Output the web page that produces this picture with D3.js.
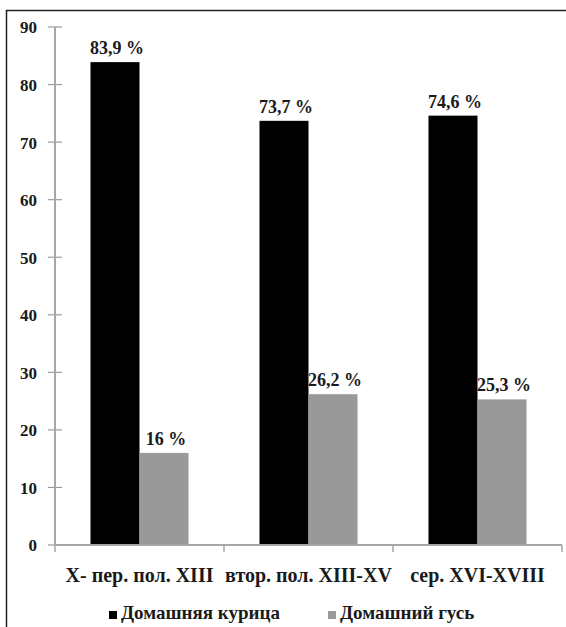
<!DOCTYPE html>
<html>
<head>
<meta charset="utf-8">
<script src="https://cdn.jsdelivr.net/npm/d3@7/dist/d3.min.js"></script>
<style>
  html, body { margin: 0; padding: 0; background: #fff; }
  svg { display: block; }
</style>
</head>
<body>
<svg id="chart" width="566" height="627"></svg>
<script>
// Periods (categories)
const periods = ["X- пер. пол. XIII", "втор. пол. XIII-XV", "сер. XVI-XVIII"];
// Series names
const seriesNames = ["Домашняя курица", "Домашний гусь"];
// Shares, %
const chickenValues = [83.9, 73.7, 74.6];
const gooseValues = [16, 26.2, 25.3];
// Y-axis ticks
const yTicks = [0, 10, 20, 30, 40, 50, 60, 70, 80, 90];
const seriesColors = ["#000000", "#999999"];

const FONT = "'Liberation Serif', 'Times New Roman', 'DejaVu Serif', serif";
const TEXT_FILL = "#1a1a1a";

const svg = d3.select("#chart");
const W = 566, H = 627;

// outer frame
svg.append("rect")
  .attr("x", 6.5).attr("y", 10.5)
  .attr("width", W + 10).attr("height", H + 10)
  .attr("fill", "none").attr("stroke", "#222").attr("stroke-width", 1.5);

const plot = { left: 55, right: 562, top: 27, bottom: 545 };

const y = d3.scaleLinear().domain([0, 90]).range([plot.bottom, plot.top]);
const x = d3.scaleBand().domain(periods).range([plot.left, plot.right])
  .paddingInner(0.42).paddingOuter(0.21);
const x1 = d3.scaleBand().domain(seriesNames).range([0, x.bandwidth()]);

const rows = periods.map((p, i) => ({ period: p, vals: [chickenValues[i], gooseValues[i]] }));

function styleText(sel, size) {
  sel.attr("font-family", FONT).attr("font-weight", "bold")
    .attr("font-size", size).attr("fill", TEXT_FILL)
    .style("font-family", FONT);
}

// y axis
const yAxis = d3.axisLeft(y).tickValues(yTicks).tickSize(0).tickPadding(18);
const gy = svg.append("g").attr("transform", `translate(${plot.left},0)`).call(yAxis);
gy.select(".domain").remove();
gy.attr("font-family", FONT);
styleText(gy.selectAll("text").attr("dy", "0.35em"), 17);
svg.append("g").selectAll("line").data(yTicks).join("line")
  .attr("x1", plot.left - 7).attr("x2", plot.left + 7)
  .attr("y1", d => y(d)).attr("y2", d => y(d))
  .attr("stroke", "#9a9a9a").attr("stroke-width", 1.2);
svg.append("line")
  .attr("x1", plot.left).attr("x2", plot.left)
  .attr("y1", plot.top).attr("y2", plot.bottom)
  .attr("stroke", "#a6a6a6").attr("stroke-width", 2);

// bars
const groups = svg.append("g").selectAll("g").data(rows).join("g")
  .attr("transform", d => `translate(${x(d.period)},0)`);
groups.selectAll("rect").data(d => d.vals.map((v, j) => ({ v, s: seriesNames[j], j }))).join("rect")
  .attr("x", d => x1(d.s))
  .attr("y", d => y(d.v))
  .attr("width", x1.bandwidth())
  .attr("height", d => y(0) - y(d.v))
  .attr("fill", d => seriesColors[d.j]);

// value labels
const fmt = v => String(v).replace(".", ",") + " %";
groups.selectAll("text.val").data(d => d.vals.map((v, j) => ({ v, s: seriesNames[j] }))).join("text")
  .attr("class", "val")
  .attr("x", d => x1(d.s) + x1.bandwidth() / 2 + 2)
  .attr("y", d => y(d.v) - 8)
  .attr("text-anchor", "middle")
  .call(styleText, 18)
  .text(d => fmt(d.v));

// x axis
svg.append("line")
  .attr("x1", plot.left).attr("x2", plot.right)
  .attr("y1", plot.bottom).attr("y2", plot.bottom)
  .attr("stroke", "#a6a6a6").attr("stroke-width", 2);
const boundaries = d3.range(periods.length + 1).map(i => plot.left + i * x.step());
svg.append("g").selectAll("line").data(boundaries).join("line")
  .attr("x1", d => d).attr("x2", d => d)
  .attr("y1", plot.bottom).attr("y2", plot.bottom + 7)
  .attr("stroke", "#a6a6a6").attr("stroke-width", 1.5);
svg.append("g").selectAll("text").data(periods).join("text")
  .attr("x", d => x(d) + x.bandwidth() / 2)
  .attr("y", 582)
  .attr("text-anchor", "middle")
  .call(styleText, 20)
  .text(d => d);

// legend
const legendX = [109, 328];
const lg = svg.append("g").selectAll("g").data(seriesNames).join("g")
  .attr("transform", (d, i) => `translate(${legendX[i]},611)`);
lg.append("rect").attr("width", 8).attr("height", 8)
  .attr("fill", (d, i) => seriesColors[i]);
lg.append("text").attr("x", 12).attr("y", 8).call(styleText, 19).text(d => d);
</script>
</body>
</html>
